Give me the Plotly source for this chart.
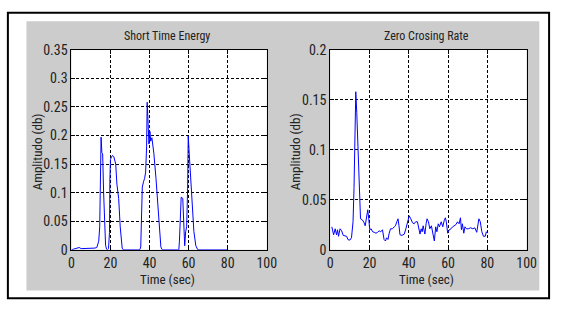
import plotly.graph_objects as go

# ---- data ----
ste_time = [0, 1, 2, 3, 4, 5, 6, 7, 8, 9, 10, 11, 12, 13, 13.5, 14, 14.5, 14.8, 15.2, 15.6, 16, 16.5, 17,
            17.5, 18, 18.5, 19, 19.5, 19.7, 20, 20.5, 21, 21.7, 22.7, 23.3, 24.2, 25, 26, 26.5, 35, 35.5,
            36, 36.3, 37, 37.5, 38, 38.5, 38.8, 39.3, 39.7, 40.2, 40.6, 41.2, 42.2, 43.3, 44.3, 45, 45.8,
            46.5, 55, 55.3, 55.7, 56.2, 57, 57.5, 58, 58.5, 59, 59.5, 59.8, 60.3, 61, 61.8, 62.7, 63.7,
            64.7, 80]
ste_value = [0, 0.001, 0.001, 0.002, 0.004, 0.002, 0.002, 0.003, 0.003, 0.003, 0.002, 0.003, 0.003, 0.004,
             0.008, 0.015, 0.04, 0.15, 0.197, 0.17, 0.168, 0.1, 0.04, 0.008, 0.001, 0, 0.002, 0.03, 0.12,
             0.158, 0.162, 0.165, 0.163, 0.15, 0.115, 0.09, 0.04, 0.003, 0, 0, 0.005, 0.07, 0.11, 0.12,
             0.125, 0.136, 0.18, 0.258, 0.223, 0.185, 0.207, 0.19, 0.196, 0.169, 0.125, 0.076, 0.032,
             0.005, 0, 0, 0.015, 0.065, 0.092, 0.09, 0.054, 0.007, 0.032, 0.04, 0.108, 0.199, 0.169,
             0.125, 0.076, 0.032, 0.007, 0, 0]

zcr_time = [0.8, 1.7, 2.5, 3.2, 3.7, 4.2, 5, 5.8, 6.6, 7.5, 8.3, 9.1, 10, 10.8, 11.6, 12.1, 12.6, 13,
            13.5, 14, 14.5, 15.1, 15.4, 16.3, 17.1, 17.8, 18.4, 19.1, 19.6, 20.1, 20.8, 21.6, 22.4, 23.3,
            24.1, 24.9, 25.7, 26.6, 27.4, 28.1, 28.7, 29.4, 30, 30.7, 31.6, 32.4, 33.2, 33.9, 34.5, 35,
            35.5, 36.5, 37.7, 38.5, 39.4, 40.2, 41, 41.9, 42.7, 43.5, 44.4, 45, 45.7, 46.3, 46.8, 47.3,
            48.2, 48.8, 49.3, 50, 50.7, 51.5, 52.3, 53, 53.7, 54.3, 55, 55.6, 56.5, 57.3, 58, 58.6, 59.1,
            59.8, 60.6, 61.5, 62.3, 63.1, 63.9, 64.8, 65.6, 66.3, 66.8, 67.3, 68, 68.6, 69.4, 70.3, 71.4,
            72.6, 73.6, 74.6, 75.2, 75.7, 76.4, 77.2, 78, 78.9, 79.5, 80.2]
zcr_value = [0.023, 0.015, 0.021, 0.015, 0.02, 0.0135, 0.021, 0.019, 0.0144, 0.0135, 0.0135, 0.010,
             0.0097, 0.012, 0.028, 0.062, 0.125, 0.158, 0.137, 0.112, 0.084, 0.048, 0.031, 0.03, 0.0276,
             0.024, 0.031, 0.040, 0.031, 0.02, 0.021, 0.018, 0.0175, 0.0166, 0.0175, 0.019, 0.018, 0.02,
             0.0103, 0.0088, 0.012, 0.0103, 0.0166, 0.021, 0.021, 0.023, 0.024, 0.028, 0.031, 0.024,
             0.015, 0.0144, 0.0157, 0.021, 0.028, 0.034, 0.031, 0.027, 0.026, 0.028, 0.028, 0.021,
             0.0157, 0.021, 0.018, 0.024, 0.0157, 0.026, 0.031, 0.028, 0.021, 0.024, 0.0157, 0.0088,
             0.023, 0.018, 0.026, 0.023, 0.028, 0.023, 0.029, 0.032, 0.028, 0.0166, 0.02, 0.021, 0.023,
             0.024, 0.025, 0.028, 0.026, 0.032, 0.02, 0.026, 0.0166, 0.023, 0.021, 0.021, 0.022, 0.021,
             0.022, 0.0175, 0.024, 0.031, 0.028, 0.018, 0.0135, 0.0135, 0.018, 0.0166]

x_ticks = [0, 20, 40, 60, 80, 100]
ste_y_ticks = [0, 0.05, 0.1, 0.15, 0.2, 0.25, 0.3, 0.35]
ste_y_labels = ["0", "0.05", "0.1", "0.15", "0.2", "0.25", "0.3", "0.35"]
zcr_y_ticks = [0, 0.05, 0.1, 0.15, 0.2]
zcr_y_labels = ["0", "0.05", "0.1", "0.15", "0.2"]

titles = ["Short Time Energy", "Zero Crosing Rate"]
x_label = "Time (sec)"
y_label = "Amplitudo (db)"

# ---- figure ----
W, H = 563, 309
FONT = "Roboto Condensed, Liberation Sans Narrow, Arial Narrow, sans-serif"

def px(x):
    return x / W

def py(y):
    return 1 - y / H

fig = go.Figure()
fig.add_trace(go.Scatter(x=ste_time, y=ste_value, mode="lines",
                         line=dict(color="#0000ff", width=1), xaxis="x", yaxis="y", showlegend=False))
fig.add_trace(go.Scatter(x=zcr_time, y=zcr_value, mode="lines",
                         line=dict(color="#0000ff", width=1), xaxis="x2", yaxis="y2", showlegend=False))

axis_common = dict(showline=True, mirror="ticks", linecolor="black", linewidth=1,
                   showgrid=True, gridcolor="black", gridwidth=1, griddash="3px,2px",
                   zeroline=False, ticks="inside", ticklen=4, tickcolor="black",
                   tickfont=dict(family=FONT, size=14, color="#222222"))

top, bottom = 44, 255
L1, R1, L2, R2 = 70, 270, 335, 536
fig.update_layout(
    width=W, height=H,
    margin=dict(l=0, r=0, t=0, b=0),
    paper_bgcolor="white", plot_bgcolor="white",
    xaxis=dict(domain=[px(L1), px(R1)], range=[0, 100], tickvals=x_ticks, anchor="y", **axis_common),
    yaxis=dict(domain=[py(bottom), py(top)], range=[0, 0.35], tickvals=ste_y_ticks,
               ticktext=ste_y_labels, anchor="x", **axis_common),
    xaxis2=dict(domain=[px(L2), px(R2)], range=[0, 100], tickvals=x_ticks, anchor="y2", **axis_common),
    yaxis2=dict(domain=[py(bottom), py(top)], range=[0, 0.2], tickvals=zcr_y_ticks,
                ticktext=zcr_y_labels, anchor="x2", **axis_common),
    shapes=[
        dict(type="rect", xref="paper", yref="paper", x0=px(5), x1=px(559), y0=py(306), y1=py(5),
             line=dict(color="black", width=2), fillcolor="white", layer="below"),
        dict(type="rect", xref="paper", yref="paper", x0=px(24), x1=px(549), y0=py(298), y1=py(14),
             line=dict(width=0), fillcolor="#cccccc", layer="below"),
        dict(type="rect", xref="paper", yref="paper", x0=px(L1), x1=px(R1), y0=py(bottom), y1=py(top),
             line=dict(width=0), fillcolor="white", layer="below"),
        dict(type="rect", xref="paper", yref="paper", x0=px(L2), x1=px(R2), y0=py(bottom), y1=py(top),
             line=dict(width=0), fillcolor="white", layer="below"),
    ],
)

ann = []
for cx, title in [(168, titles[0]), (433, titles[1])]:
    ann.append(dict(text=title, x=px(cx), y=py(30), xref="paper", yref="paper", showarrow=False,
                    xanchor="center", yanchor="middle", font=dict(family=FONT, size=12, color="#222222")))
    ann.append(dict(text=x_label, x=px(cx), y=py(286), xref="paper", yref="paper", showarrow=False,
                    xanchor="center", yanchor="middle", font=dict(family=FONT, size=13, color="#222222")))
for lx in [35, 299]:
    ann.append(dict(text=y_label, x=px(lx), y=py(152), xref="paper", yref="paper", showarrow=False,
                    textangle=-90, xanchor="center", yanchor="middle",
                    font=dict(family=FONT, size=13, color="#222222")))
fig.update_layout(annotations=ann)

post = ("var s=document.documentElement.style;s.margin='0';s.padding='0';s.overflow='hidden';"
        "var b=document.body.style;b.margin='0';b.padding='0';b.overflow='hidden';"
        "var d=document.getElementById('{plot_id}');d.style.position='fixed';"
        "d.style.left='0px';d.style.top='0px';")
fig.write_html("out.html", config={"displayModeBar": False, "staticPlot": True}, post_script=post)
